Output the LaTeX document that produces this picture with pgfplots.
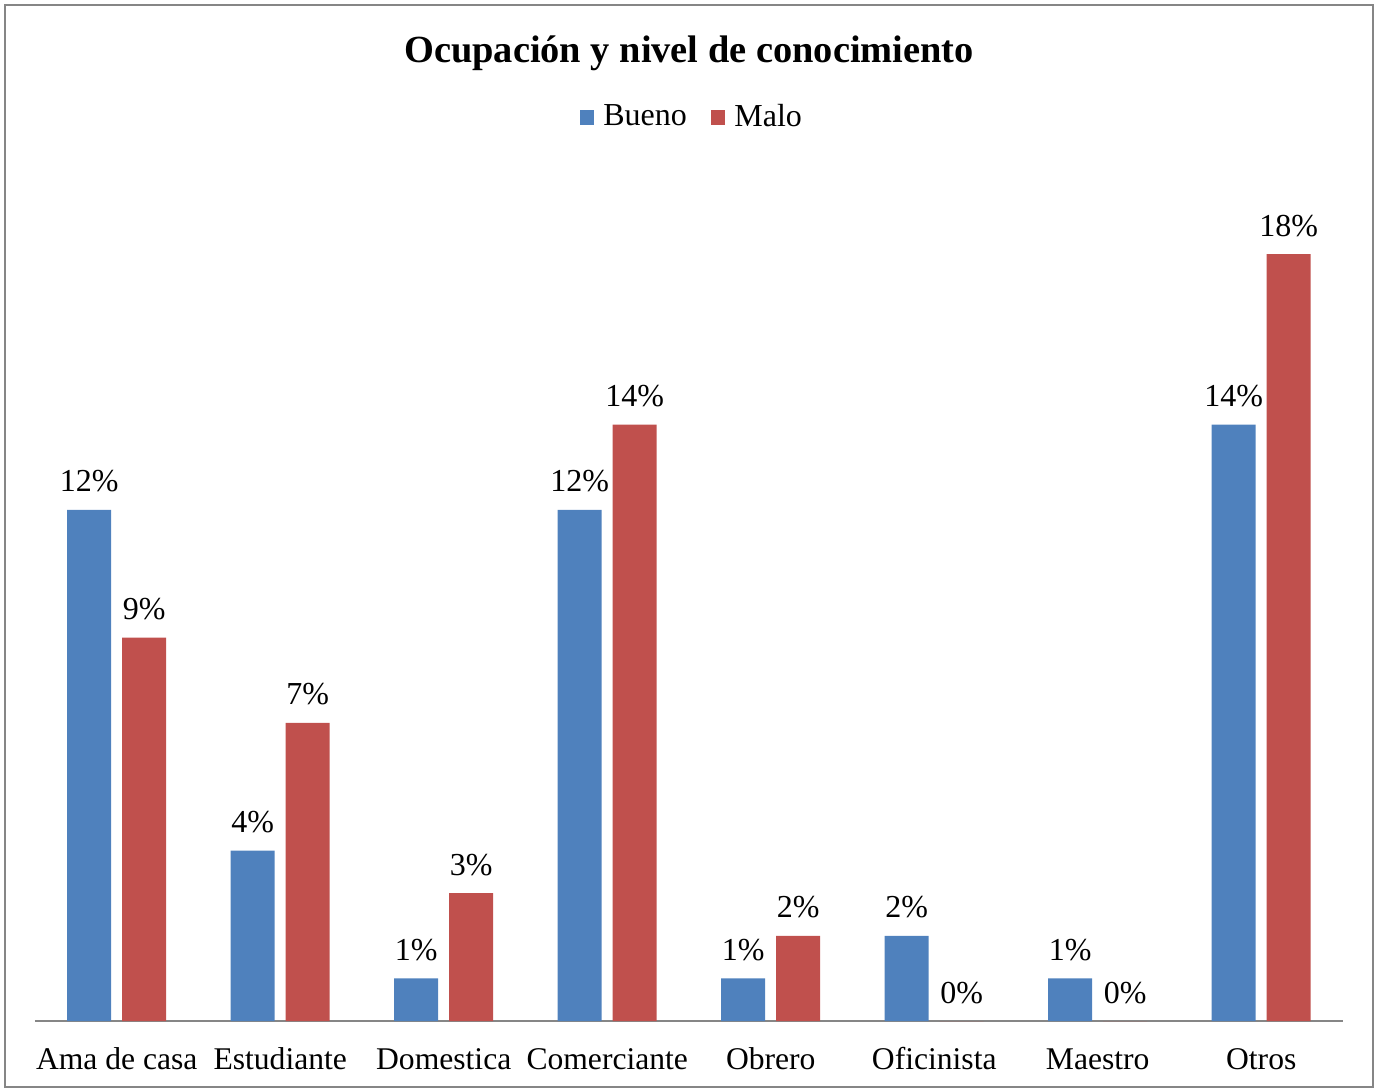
\documentclass[border=0pt]{standalone}
\usepackage{pgfplots}
\pgfplotsset{compat=1.18}
\usepackage{fontspec}
\setmainfont{Liberation Serif}
\definecolor{cblue}{HTML}{4F81BD}
\definecolor{cred}{HTML}{C0504D}
\definecolor{cgray}{HTML}{868686}
\begin{document}
\begin{tikzpicture}
\useasboundingbox (0,0) rectangle (688pt,544pt);
\draw[cgray, line width=1pt] (2.5pt,0.5pt) rectangle (686.5pt,541.5pt);
\begin{axis}[
  at={(17.5pt,33.5pt)}, anchor=south west,
  scale only axis, width=654pt, height=426pt,
  ybar, bar width=22pt,
  xmin=-0.5, xmax=7.5, ymin=0, ymax=20,
  axis y line=none, axis x line*=bottom,
  x axis line style={cgray, line width=1pt, -},
  xtick={0,...,7}, major tick length=0pt,
  xticklabels={Ama de casa,Estudiante,Domestica,Comerciante,Obrero,Oficinista,Maestro,Otros},
  xticklabel style={font=\fontsize{15.8}{19}\selectfont, anchor=base, yshift=-24pt},
  nodes near coords={\pgfmathprintnumber[assume math mode=true]{\pgfplotspointmeta}\%},
  every node near coord/.append style={font=\fontsize{16}{19}\selectfont, anchor=base, inner sep=0pt, yshift=9pt},
  title={\textbf{Ocupación y nivel de conocimiento}},
  title style={font=\fontsize{19.2}{23}\selectfont, at={(0.5,1.1115)}, anchor=base},
  legend style={at={(0.503,1.061)}, anchor=center, draw=none, fill=none, legend columns=2,
    font=\fontsize{16}{19}\selectfont,
    /tikz/every odd column/.append style={column sep=2.5pt},
    /tikz/every even column/.append style={column sep=10pt}},
  legend image code/.code={\fill[#1] (0pt,-3.75pt) rectangle (7.25pt,3.75pt);},
]
\addplot[fill=cblue, draw=none, bar shift=-13.75pt] coordinates {(0,12) (1,4) (2,1) (3,12) (4,1) (5,2) (6,1) (7,14)};
\addplot[fill=cred, draw=none, bar shift=13.75pt] coordinates {(0,9) (1,7) (2,3) (3,14) (4,2) (5,0) (6,0) (7,18)};
\legend{Bueno,Malo}
\end{axis}
\end{tikzpicture}
\end{document}
